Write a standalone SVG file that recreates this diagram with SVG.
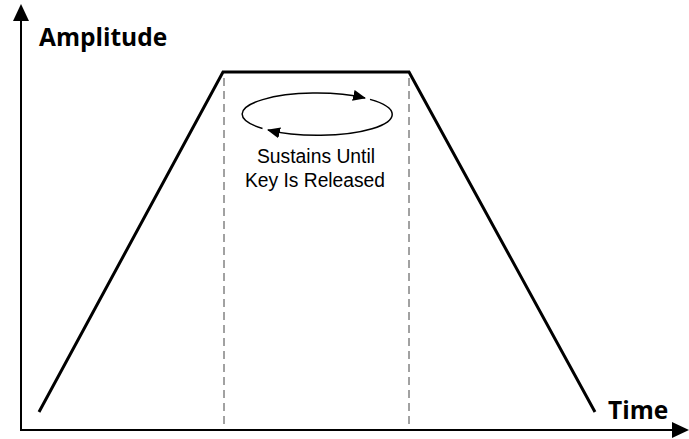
<svg xmlns="http://www.w3.org/2000/svg" width="689" height="439" viewBox="0 0 689 439">
<style>
.axis{stroke:#000;stroke-width:2;fill:none}
.env{stroke:#000;stroke-width:3;fill:none;stroke-linejoin:miter}
.dash{stroke:#444;stroke-width:1;stroke-dasharray:8,5;fill:none}
.loop{stroke:#000;stroke-width:1.5;fill:none}
.lbl{font-family:"Open Sans","Liberation Sans",sans-serif;font-weight:bold;font-size:24.5px;fill:#000}
.note{font-family:"Liberation Sans",sans-serif;font-size:19.5px;fill:#000;text-anchor:middle}
</style>
<defs>
<marker id="ah" markerWidth="13" markerHeight="11" refX="12" refY="5.5" orient="auto" markerUnits="userSpaceOnUse">
<path d="M0,0 L13,5.5 L0,11 Z" fill="#000"/>
</marker>
</defs>
<g id="axes">
<line class="axis" x1="21" y1="431" x2="21" y2="20"/>
<path d="M21,4 L13,21 L29,21 Z" fill="#000"/>
<line class="axis" x1="20" y1="430" x2="672" y2="430"/>
<path d="M689,430 L672,422 L672,438 Z" fill="#000"/>
</g>
<g id="guides">
<line class="dash" x1="224" y1="78" x2="224" y2="428"/>
<line class="dash" x1="409" y1="78" x2="409" y2="428"/>
</g>
<g id="envelope">
<polyline class="env" points="39,412 223,72 409,72 595,412"/>
</g>
<g id="connectors">
<path class="loop" d="M370,99.4 A74.5,21 0 0 1 268,130" marker-end="url(#ah)"/>
<path class="loop" d="M262.5,128.5 A74.5,21 0 0 1 365,98.1" marker-end="url(#ah)"/>
</g>
<g id="labels">
<text class="lbl" x="39" y="46">Amplitude</text>
<text class="lbl" x="608" y="419">Time</text>
<text class="note" x="316" y="163" textLength="118" lengthAdjust="spacingAndGlyphs">Sustains Until</text>
<text class="note" x="315" y="187" textLength="140" lengthAdjust="spacingAndGlyphs">Key Is Released</text>
</g>
</svg>
